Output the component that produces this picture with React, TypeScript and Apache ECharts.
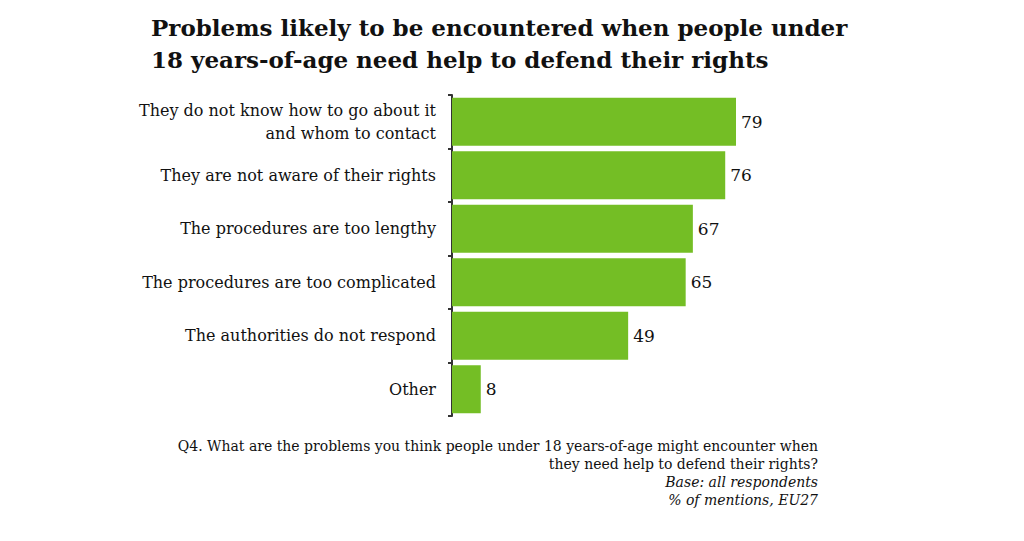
import React, { useEffect, useRef } from "react";
import * as echarts from "echarts";

const categories = [
  "They do not know how to go about it\nand whom to contact",
  "They are not aware of their rights",
  "The procedures are too lengthy",
  "The procedures are too complicated",
  "The authorities do not respond",
  "Other",
];
const values = [79, 76, 67, 65, 49, 8];

const titleLines = [
  "Problems likely to be encountered when people under",
  "18 years-of-age need help to defend their rights",
];
const noteLines = [
  "Q4. What are the problems you think people under 18 years-of-age might encounter when",
  "they need help to defend their rights?",
];
const noteItalic = ["Base: all respondents", "% of mentions, EU27"];

const FONT = "'DejaVu Serif', 'Liberation Serif', serif";

export default function App() {
  const ref = useRef<HTMLDivElement>(null);
  useEffect(() => {
    const chart = echarts.init(ref.current!, null, { renderer: "svg" });
    chart.setOption({
      animation: false,
      backgroundColor: "#ffffff",
      title: {
        text: titleLines.join("\n"),
        left: 146,
        top: 6,
        textStyle: {
          fontFamily: FONT,
          fontWeight: "bold",
          fontSize: 23,
          lineHeight: 32,
          color: "#111",
        },
      },
      grid: { left: 452, right: 212.5, top: 95, bottom: 125 },
      xAxis: {
        type: "value",
        min: 0,
        max: 100,
        show: false,
      },
      yAxis: {
        type: "category",
        inverse: true,
        data: categories,
        axisLine: { show: true, lineStyle: { color: "#333", width: 2 } },
        axisTick: { show: true, length: 4, lineStyle: { color: "#333", width: 2 } },
        axisLabel: {
          fontFamily: FONT,
          fontSize: 16,
          lineHeight: 23,
          color: "#111",
          margin: 16,
          align: "right",
        },
      },
      series: [
        {
          type: "bar",
          data: values,
          barCategoryGap: "10%",
          itemStyle: { color: "#74BE25" },
          label: {
            show: true,
            position: "right",
            distance: 5,
            fontFamily: FONT,
            fontSize: 17,
            color: "#111",
          },
        },
      ],
      graphic: [
        ...noteLines.map((t, i) => ({
          type: "text",
          right: 206,
          top: 439 + i * 18,
          style: { text: t, font: `14px ${FONT}`, fill: "#111", textAlign: "right" },
        })),
        ...noteItalic.map((t, i) => ({
          type: "text",
          right: 206,
          top: 475 + i * 18,
          style: { text: t, font: `italic 14px ${FONT}`, fill: "#111", textAlign: "right" },
        })),
      ],
    });
    return () => chart.dispose();
  }, []);
  return <div ref={ref} style={{ width: 1024, height: 541, margin: -8 }} />;
}
